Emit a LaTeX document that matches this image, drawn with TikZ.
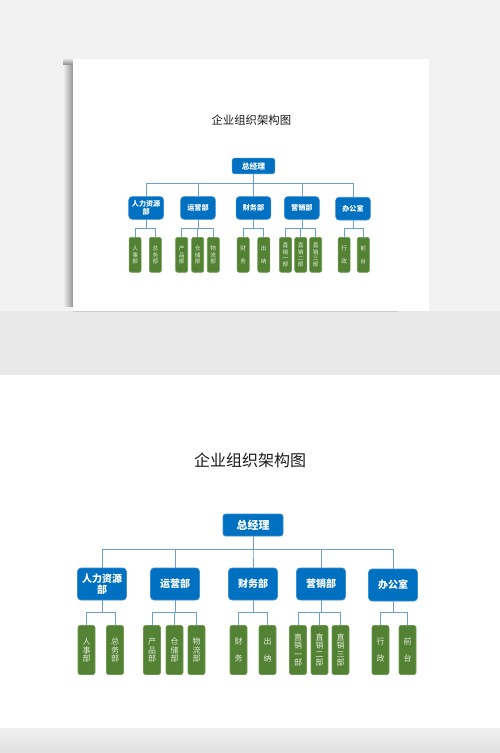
\documentclass[tikz,border=0pt]{standalone}
\usepackage{fontspec}
\setmainfont{Noto Sans CJK SC}

\definecolor{deptblue}{HTML}{0070C0}
\definecolor{deptedge}{HTML}{3A8DD8}
\definecolor{unitgreen}{HTML}{548235}
\definecolor{unitedge}{HTML}{6E9A4E}
\definecolor{linkblue}{HTML}{6A9FCB}
\definecolor{unittext}{HTML}{E4ECDA}
\definecolor{wallgray}{HTML}{F2F2F2}
\definecolor{floorgray}{HTML}{E9E9E9}

\newcommand\orgchart{%
  \node[charttitle] (title) at (250,460) {企业组织架构图};
  \node[gmbox] (gm) at (253,525) {总经理};

  \node[deptbox] (hr)  at (102,584) {人力资源\\部};
  \node[deptbox] (ops) at (175,584) {运营部};
  \node[deptbox] (fin) at (253,584) {财务部};
  \node[deptbox] (mkt) at (321,584) {营销部};
  \node[deptbox] (off) at (393,585) {办公室};

  \node[unitbox] (hr1)  at (86.5,650)  {人\\事\\部};
  \node[unitbox] (hr2)  at (115,650)   {总\\务\\部};
  \node[unitbox] (ops1) at (152,650)   {产\\品\\部};
  \node[unitbox] (ops2) at (174.5,650) {仓\\储\\部};
  \node[unitbox] (ops3) at (196.5,650) {物\\流\\部};
  \node[unitbox] (fin1) at (238.5,650) {财\\[8.5pt]务};
  \node[unitbox] (fin2) at (267.5,650) {出\\[8.5pt]纳};
  \node[unitbox] (mkt1) at (298,650)   {直\\销\\一\\部};
  \node[unitbox] (mkt2) at (319.5,650) {直\\销\\二\\部};
  \node[unitbox] (mkt3) at (340.5,650) {直\\销\\三\\部};
  \node[unitbox] (off1) at (380.5,650) {行\\[8.5pt]政};
  \node[unitbox] (off2) at (407.5,650) {前\\[8.5pt]台};

  \foreach \d in {hr,ops,fin,mkt,off}
    \draw[link] (gm.south) -- ++(0,13) -| (\d.north);
  \foreach \u in {hr1,hr2}
    \draw[link] (hr.south) -- ++(0,12) -| (\u.north);
  \foreach \u in {ops1,ops2,ops3}
    \draw[link] (ops.south) -- ++(0,12) -| (\u.north);
  \foreach \u in {fin1,fin2}
    \draw[link] (fin.south) -- ++(0,12) -| (\u.north);
  \foreach \u in {mkt1,mkt2,mkt3}
    \draw[link] (mkt.south) -- ++(0,12) -| (\u.north);
  \foreach \u in {off1,off2}
    \draw[link] (off.south) -- ++(0,11) -| (\u.north);
}

\begin{document}
\begin{tikzpicture}
  [x=1pt, y=-1pt,
   charttitle/.style={text=black!90, font=\fontsize{16}{18}\selectfont, inner sep=0pt},
   gmbox/.style={fill=deptblue, draw=deptedge, line width=0.6pt, rounded corners=2.5pt,
                 minimum width=60pt, minimum height=22pt, inner sep=0pt,
                 text=white, font=\bfseries\fontsize{11}{12}\selectfont},
   deptbox/.style={fill=deptblue, draw=deptedge, line width=0.6pt, rounded corners=3.5pt,
                   minimum width=49pt, minimum height=32pt, inner sep=0pt, align=center,
                   text=white, font=\bfseries\fontsize{10}{10.5}\selectfont},
   unitbox/.style={fill=unitgreen, draw=unitedge, line width=0.6pt, rounded corners=2pt,
                   minimum width=17pt, minimum height=49pt, inner sep=0pt, align=center,
                   text=unittext, font=\fontsize{8}{8.5}\selectfont},
   link/.style={draw=linkblue, line width=0.8pt}]

  \useasboundingbox (0,0) rectangle (500,753);
  \fill[white] (0,0) rectangle (500,753);
  \fill[wallgray] (0,0) rectangle (500,311);
  \fill[floorgray] (0,311) rectangle (500,375);
  \shade[top color=black!6, bottom color=black!12] (0,728) rectangle (500,753);

  \shade[left color=wallgray, right color=black!42] (63,64) rectangle (73,306);
  \shade[top color=wallgray, bottom color=black!42] (63,58) rectangle (73,64);
  \draw[black!20, line width=0.7pt] (73,311.5) -- (398,311.5);
  \fill[white] (73,59) rectangle (429,311);

  \begin{scope}[shift={(73.6,-207.3)}, scale=0.711, transform shape,
                name prefix=card-, link/.append style={line width=0.6pt},
                every node/.append style={line width=0.45pt}]
    \orgchart
  \end{scope}

  \orgchart
\end{tikzpicture}
\end{document}
